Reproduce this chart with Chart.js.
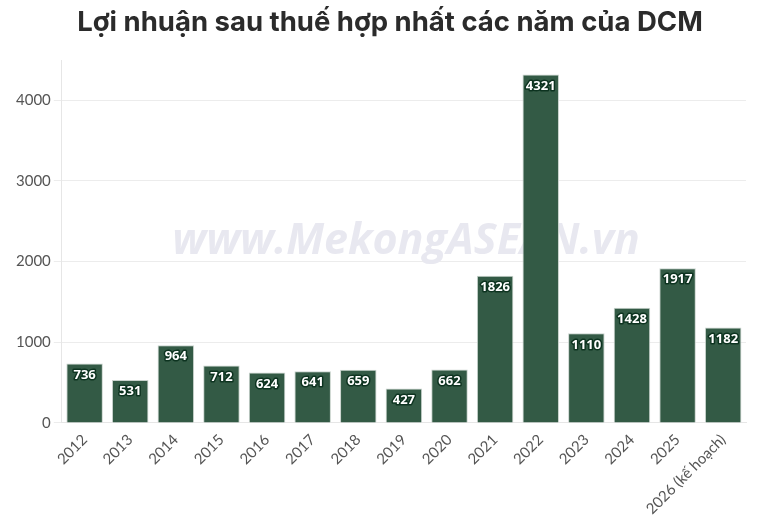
<!DOCTYPE html>
<html>
<head>
<meta charset="utf-8">
<script src="https://cdn.jsdelivr.net/npm/chart.js@4"></script>
<style>
  html, body { margin: 0; padding: 0; background: #fff; }
  #wrap { width: 780px; height: 523px; position: relative; }
</style>
</head>
<body>
<div id="wrap"><canvas id="dcm_chart"></canvas></div>
<script>
// data
const years = ['2012', '2013', '2014', '2015', '2016', '2017', '2018', '2019', '2020', '2021', '2022', '2023', '2024', '2025', '2026 (kế hoạch)'];
const profit = [736, 531, 964, 712, 624, 641, 659, 427, 662, 1826, 4321, 1110, 1428, 1917, 1182];
const yTicks = [0, 1000, 2000, 3000, 4000];
const titleText = 'Lợi nhuận sau thuế hợp nhất các năm của DCM';

const barColor = '#335a45';

// title centred on the whole canvas, not the padded box
const titlePlugin = {
  id: 'titlePlugin',
  afterDraw(chart) {
    const c = chart.ctx;
    c.save();
    c.font = 'bold 27.5px Inter, sans-serif';
    c.fillStyle = '#2b2b2b';
    c.textAlign = 'center';
    c.textBaseline = 'middle';
    c.fillText(titleText, chart.width / 2, 23);
    c.restore();
  }
};

// watermark behind the bars
const watermark = {
  id: 'watermark',
  beforeDatasetsDraw(chart) {
    const c = chart.ctx;
    c.save();
    c.font = 'italic bold 43px "Open Sans", sans-serif';
    c.fillStyle = '#e8e8f0';
    c.textAlign = 'center';
    c.textBaseline = 'middle';
    c.fillText('www.MekongASEAN.vn', 406, 242);
    c.restore();
  }
};

// value labels inside top of each bar
const valueLabels = {
  id: 'valueLabels',
  afterDatasetsDraw(chart) {
    const c = chart.ctx;
    const meta = chart.getDatasetMeta(0);
    c.save();
    c.font = 'bold 13px "Open Sans", sans-serif';
    c.textAlign = 'center';
    c.textBaseline = 'top';
    c.lineJoin = 'round';
    meta.data.forEach((bar, i) => {
      const txt = String(profit[i]);
      c.strokeStyle = '#0d3320';
      c.lineWidth = 3;
      c.strokeText(txt, bar.x, bar.y + 5);
      c.fillStyle = '#ffffff';
      c.fillText(txt, bar.x, bar.y + 5);
    });
    c.restore();
  }
};

const ctx = document.getElementById('dcm_chart').getContext('2d');
new Chart(ctx, {
  type: 'bar',
  data: {
    labels: years,
    datasets: [{
      data: profit,
      backgroundColor: barColor,
      borderColor: '#c9d3cd',
      borderWidth: 1,
      barPercentage: 0.8,
      categoryPercentage: 1.0
    }]
  },
  options: {
    responsive: true,
    maintainAspectRatio: false,
    animation: false,
    layout: { padding: { left: 13, right: 34, top: 60, bottom: 3 } },
    plugins: {
      legend: { display: false },
      tooltip: { enabled: false },
      title: { display: false }
    },
    scales: {
      x: {
        grid: { display: false, drawOnChartArea: false, tickLength: 6, color: '#dddddd' },
        border: { color: '#e6e6e6' },
        ticks: {
          color: '#555555',
          font: { family: 'Lato', size: 15 },
          maxRotation: 45,
          minRotation: 45,
          padding: 2
        }
      },
      y: {
        min: 0,
        max: 4500,
        afterBuildTicks(scale) {
          scale.ticks = yTicks.map(v => ({ value: v }));
        },
        grid: { color: '#ececec', tickLength: 8 },
        border: { color: '#e6e6e6' },
        ticks: {
          color: '#555555',
          font: { family: 'Lato', size: 15 },
          padding: 3,
          callback: v => String(v)
        }
      }
    }
  },
  plugins: [titlePlugin, watermark, valueLabels]
});
</script>
</body>
</html>
